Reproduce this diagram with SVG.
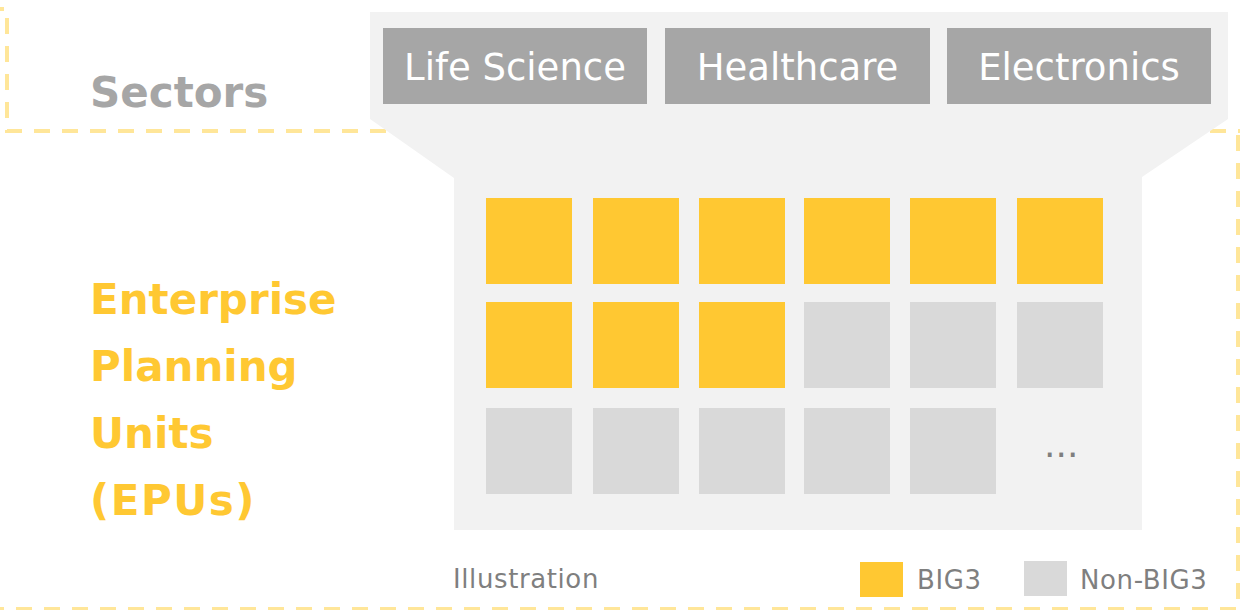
<svg xmlns="http://www.w3.org/2000/svg" width="1240" height="610" viewBox="0 0 1240 610">
  <style>
    .dash { fill: none; stroke: #ffe699; stroke-width: 4; stroke-dasharray: 16 12; }
    .panel { fill: #f2f2f2; }
    .sector { fill: #a6a6a6; }
    .sector-t { font-family: "DejaVu Sans", Verdana, sans-serif; font-size: 37px; fill: #ffffff; text-anchor: middle; }
    .big { fill: #ffc832; }
    .non { fill: #d9d9d9; }
    .head { font-family: "DejaVu Sans", Verdana, sans-serif; font-size: 42px; font-weight: bold; }
    .small { font-family: "DejaVu Sans", Verdana, sans-serif; font-size: 26px; letter-spacing: 0.6px; fill: #7f7f7f; }
  </style>
  <rect width="1240" height="610" fill="#ffffff"/>

  <g id="frames">
    <path class="dash" d="M -12 9 H 7 V 131 H 1240"/>
    <path class="dash" d="M 1238 135 V 609 H -10"/>
  </g>

  <g id="panel">
    <path class="panel" d="M 370 12 H 1228 V 119 L 1142 177 V 530 H 454 V 178 L 370 119 Z"/>
  </g>

  <g id="sectors-label">
    <text class="head" x="90" y="107" fill="#a6a6a6">Sectors</text>
  </g>

  <g id="sector-life-science">
    <rect class="sector" x="383" y="28" width="264" height="76"/>
    <text class="sector-t" x="515" y="80">Life Science</text>
  </g>
  <g id="sector-healthcare">
    <rect class="sector" x="665" y="28" width="265" height="76"/>
    <text class="sector-t" x="797.5" y="80">Healthcare</text>
  </g>
  <g id="sector-electronics">
    <rect class="sector" x="947" y="28" width="264" height="76"/>
    <text class="sector-t" x="1079" y="80">Electronics</text>
  </g>

  <g id="epu-label">
    <text class="head" fill="#ffc832">
      <tspan x="90" y="314">Enterprise</tspan>
      <tspan x="90" y="381">Planning</tspan>
      <tspan x="90" y="448">Units</tspan>
      <tspan x="90" y="515" letter-spacing="1.5">(EPUs)</tspan>
    </text>
  </g>

  <g id="epu-grid">
    <rect class="big" x="486" y="198" width="86" height="86"/>
    <rect class="big" x="593" y="198" width="86" height="86"/>
    <rect class="big" x="699" y="198" width="86" height="86"/>
    <rect class="big" x="804" y="198" width="86" height="86"/>
    <rect class="big" x="910" y="198" width="86" height="86"/>
    <rect class="big" x="1017" y="198" width="86" height="86"/>

    <rect class="big" x="486" y="302" width="86" height="86"/>
    <rect class="big" x="593" y="302" width="86" height="86"/>
    <rect class="big" x="699" y="302" width="86" height="86"/>
    <rect class="non" x="804" y="302" width="86" height="86"/>
    <rect class="non" x="910" y="302" width="86" height="86"/>
    <rect class="non" x="1017" y="302" width="86" height="86"/>

    <rect class="non" x="486" y="408" width="86" height="86"/>
    <rect class="non" x="593" y="408" width="86" height="86"/>
    <rect class="non" x="699" y="408" width="86" height="86"/>
    <rect class="non" x="804" y="408" width="86" height="86"/>
    <rect class="non" x="910" y="408" width="86" height="86"/>
    <text x="1044" y="457" font-family="DejaVu Sans, Verdana, sans-serif" font-size="36" fill="#7f7f7f">...</text>
  </g>

  <g id="legend">
    <text class="small" x="453" y="588">Illustration</text>
    <rect class="big" x="860" y="562" width="43" height="35"/>
    <text class="small" x="917" y="589">BIG3</text>
    <rect class="non" x="1024" y="561" width="43" height="35"/>
    <text class="small" x="1080" y="589">Non-BIG3</text>
  </g>
</svg>
